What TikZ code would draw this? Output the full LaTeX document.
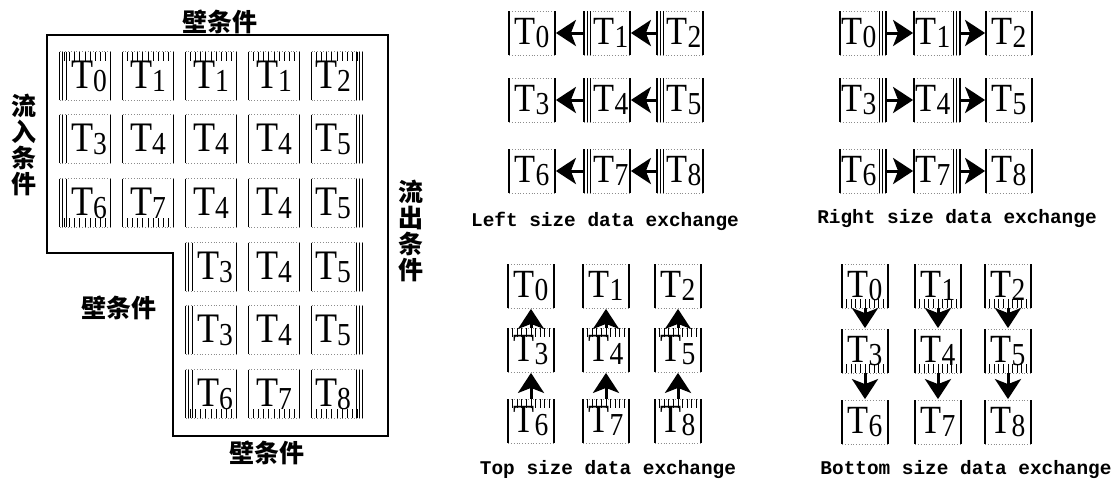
\documentclass[tikz,border=0pt]{standalone}
\usepackage{fontspec}
\usepackage{graphicx}
\usetikzlibrary{arrows.meta,calc}
\newfontfamily\cjk{Noto Sans CJK SC}
\newfontfamily\capfont{Liberation Mono}
\newfontfamily\cellfont{Liberation Serif}
\newcommand{\tlab}[1]{\scalebox{0.86}[1]{T\raisebox{-1.5pt}{\fontsize{16}{16}\selectfont #1}}}
\tikzset{
  every node/.append style={inner sep=0pt},
  cell/.style={minimum width=25pt,minimum height=24pt,font=\cellfont\fontsize{21}{21}\selectfont},
  xcell/.style={minimum width=22.5pt,minimum height=21.5pt,font=\cellfont\fontsize{20}{20}\selectfont},
  lpad/.style={execute at begin node=\hspace*{4pt}},
  rpad/.style={execute at end node=\hspace*{4pt}},
  side/.style={line width=0.7pt},
  rim/.style={black!45,densely dotted,line width=0.4pt},
  hatch/.style={line width=0.5pt},
  xarrow/.style={-{Stealth[length=10pt,width=13pt,inset=2.5pt]},line width=1.5pt,shorten >=0.5pt},
  wall/.style={line width=0.7pt},
  cjklabel/.style={font=\cjk\bfseries\fontsize{12.5}{13}\selectfont},
  caption/.style={font=\capfont\bfseries\fontsize{9.7}{10}\selectfont},
}

\begin{document}
\begin{tikzpicture}[x=0.5pt,y=-0.5pt]
  \useasboundingbox (0,0) rectangle (1120,488);
  % computational block
  \draw[wall] (47,35) -- (388,35) -- (388,436) -- (173,436) -- (173,253) -- (47,253) -- cycle;
  \foreach \lab/\s [count=\c] in {0/lpad,1/,1/,1/,2/rpad}
    \node[cell,\s] (g1\c) at ({85+63*(\c-1)},76) {\tlab{\lab}};
  \foreach \lab/\s [count=\c] in {3/lpad,4/,4/,4/,5/rpad}
    \node[cell,\s] (g2\c) at ({85+63*(\c-1)},139) {\tlab{\lab}};
  \foreach \lab/\s [count=\c] in {6/lpad,7/,4/,4/,5/rpad}
    \node[cell,\s] (g3\c) at ({85+63*(\c-1)},203) {\tlab{\lab}};
  \foreach \lab/\s [count=\c from 3] in {3/lpad,4/,5/rpad}
    \node[cell,\s] (g4\c) at ({85+63*(\c-1)},267) {\tlab{\lab}};
  \foreach \lab/\s [count=\c from 3] in {3/lpad,4/,5/rpad}
    \node[cell,\s] (g5\c) at ({85+63*(\c-1)},330) {\tlab{\lab}};
  \foreach \lab/\s [count=\c from 3] in {6/lpad,7/,8/rpad}
    \node[cell,\s] (g6\c) at ({85+63*(\c-1)},394) {\tlab{\lab}};

  \node[cjklabel] (wtop) at (220,22) {壁条件};
  \node[cjklabel,align=center] (inflow) at (24,145) {流\\入\\条\\件};
  \node[cjklabel,align=center] (outflow) at (411,231) {流\\出\\条\\件};
  \node[cjklabel] (wleft) at (119,308) {壁条件};
  \node[cjklabel] (wbot) at (267,453) {壁条件};

  % the four exchanges
  \foreach \r/\y in {1/33,2/100,3/171}
    \foreach \c/\x/\s in {1/532/,2/607/lpad,3/680/lpad}{
      \pgfmathtruncatemacro\lab{3*\r+\c-4}
      \node[xcell,\s] (L\r\c) at (\x,\y) {\tlab{\lab}};
    }
  \foreach \r/\y in {1/33,2/100,3/171}
    \foreach \c/\x/\s in {1/863/rpad,2/937/rpad,3/1009/}{
      \pgfmathtruncatemacro\lab{3*\r+\c-4}
      \node[xcell,\s] (R\r\c) at (\x,\y) {\tlab{\lab}};
    }
  \foreach \r/\y in {1/286,2/350,3/421}
    \foreach \c/\x in {1/531,2/606,3/678}{
      \pgfmathtruncatemacro\lab{3*\r+\c-4}
      \node[xcell] (U\r\c) at (\x,\y) {\tlab{\lab}};
    }
  \foreach \r/\y in {1/286,2/351,3/422}
    \foreach \c/\x in {1/865,2/938,3/1008}{
      \pgfmathtruncatemacro\lab{3*\r+\c-4}
      \node[xcell] (D\r\c) at (\x,\y) {\tlab{\lab}};
    }

  \node[caption] (capl) at (605,221) {Left size data exchange};
  \node[caption] (capr) at (957,219) {Right size data exchange};
  \node[caption] (capu) at (608,470) {Top size data exchange};
  \node[caption] (capd) at (966,470) {Bottom size data exchange};

  % cell outlines
  \foreach \n in {g11,g12,g13,g14,g15,g21,g22,g23,g24,g25,g31,g32,g33,g34,g35,
                  g43,g44,g45,g53,g54,g55,g63,g64,g65}{
    \draw[rim] (\n.north west) -- (\n.north east) (\n.south west) -- (\n.south east);
    \draw[side] (\n.north west) -- (\n.south west) (\n.north east) -- (\n.south east);
  }
  \foreach \p in {L,R,U,D}
    \foreach \r in {1,2,3}
      \foreach \c in {1,2,3}{
        \draw[rim] (\p\r\c.north west) -- (\p\r\c.north east) (\p\r\c.south west) -- (\p\r\c.south east);
        \draw[side] (\p\r\c.north west) -- (\p\r\c.south west) (\p\r\c.north east) -- (\p\r\c.south east);
      }

  % hatching
  \foreach \n in {g11,g12,g13,g14,g15,U21,U22,U23,U31,U32,U33}
    \foreach \i in {1,...,9}
      \draw[hatch] ($(\n.north west)!\i/10!(\n.north east)$) -- ++(0,9);
  \foreach \n in {g31,g32,g63,g64,g65,D11,D12,D13,D21,D22,D23}
    \foreach \i in {1,...,9}
      \draw[hatch] ($(\n.south west)!\i/10!(\n.south east)$) -- ++(0,-9);
  \foreach \n in {g11,g21,g31,g43,g53,g63,L12,L22,L32,L13,L23,L33}
    \foreach \d in {1.5pt,3.2pt}
      \draw[hatch] ([xshift=\d]\n.north west) -- ([xshift=\d]\n.south west);
  \foreach \n in {g15,g25,g35,g45,g55,g65,R11,R21,R31,R12,R22,R32}
    \foreach \d in {1.5pt,3.2pt}
      \draw[hatch] ([xshift=-\d]\n.north east) -- ([xshift=-\d]\n.south east);

  % arrows
  \foreach \r in {1,2,3}{
    \draw[xarrow] (L\r2.west) -- (L\r1.east);
    \draw[xarrow] (L\r3.west) -- (L\r2.east);
    \draw[xarrow] (R\r1.east) -- (R\r2.west);
    \draw[xarrow] (R\r2.east) -- (R\r3.west);
  }
  \foreach \c in {1,2,3}{
    \draw[xarrow] (U2\c.north) -- (U1\c.south);
    \draw[xarrow] (U3\c.north) -- (U2\c.south);
    \draw[xarrow] (D1\c.south) -- (D2\c.north);
    \draw[xarrow] (D2\c.south) -- (D3\c.north);
  }
\end{tikzpicture}
\end{document}
